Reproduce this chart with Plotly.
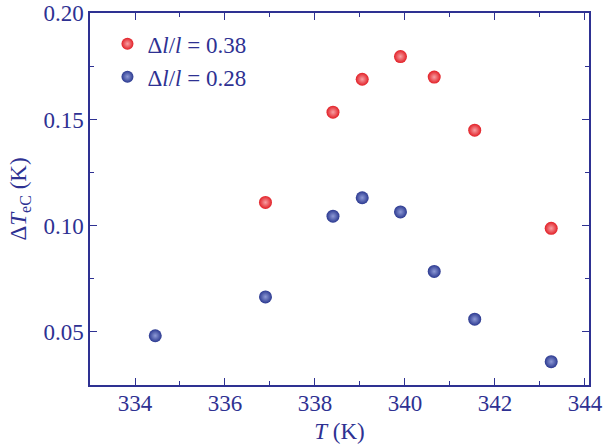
import plotly.graph_objects as go

T_red = [336.9, 338.4, 339.05, 339.9, 340.65, 341.55, 343.25]
dT_red = [0.111, 0.1535, 0.169, 0.1797, 0.170, 0.145, 0.0988]
T_blue = [334.45, 336.9, 338.4, 339.05, 339.9, 340.65, 341.55, 343.25]
dT_blue = [0.0482, 0.0665, 0.1045, 0.1132, 0.1065, 0.0785, 0.0560, 0.0360]
x_ticks = [334, 336, 338, 340, 342, 344]
y_ticks = [0.05, 0.10, 0.15, 0.20]

navy = "#2e3192"
font = "Liberation Serif"

fig = go.Figure()
fig.add_trace(go.Scatter(
    x=T_red, y=dT_red, mode="markers", name="Δ<i>l</i>/<i>l</i> = 0.38",
    marker=dict(size=13, color="#e21f26", line=dict(width=0),
                gradient=dict(type="radial", color="#f7a0a4"))))
fig.add_trace(go.Scatter(
    x=T_blue, y=dT_blue, mode="markers", name="Δ<i>l</i>/<i>l</i> = 0.28",
    marker=dict(size=13, color="#2b3990", line=dict(width=0),
                gradient=dict(type="radial", color="#8e9ad6"))))

axis_common = dict(
    showline=True, linecolor=navy, linewidth=1.5, mirror="ticks",
    ticks="inside", ticklen=7, tickcolor=navy, tickwidth=1.2,
    showgrid=False, zeroline=False, automargin=False,
    tickfont=dict(family=font, size=23, color=navy),
)
fig.update_layout(
    width=608, height=444,
    margin=dict(l=90, r=19, t=13, b=59),
    paper_bgcolor="white", plot_bgcolor="white",
    showlegend=True,
    legend=dict(x=0.035, y=0.975, xanchor="left", yanchor="top",
                bgcolor="rgba(0,0,0,0)", font=dict(family=font, size=23, color=navy),
                itemsizing="constant", tracegroupgap=0),
    xaxis=dict(range=[333, 344.09], tickvals=x_ticks,
               ticktext=[str(v) for v in x_ticks],
               ticklabelstandoff=-3,
               minor=dict(ticks="inside", ticklen=4, tickcolor=navy, dtick=1, tick0=333),
               title=dict(text="<i>T</i> (K)", font=dict(family=font, size=23, color=navy), standoff=14),
               **axis_common),
    yaxis=dict(range=[0.025, 0.2002], tickvals=y_ticks,
               ticktext=["%.2f" % v for v in y_ticks],
               minor=dict(ticks="inside", ticklen=4, tickcolor=navy, dtick=0.025, tick0=0.025),
               title=dict(text="Δ<i>T</i><sub>eC</sub> (K)", font=dict(family=font, size=23, color=navy), standoff=10),
               **axis_common),
)
fig.write_html("out.html", config={"displayModeBar": False},
               post_script="document.body.style.margin='0px';")
